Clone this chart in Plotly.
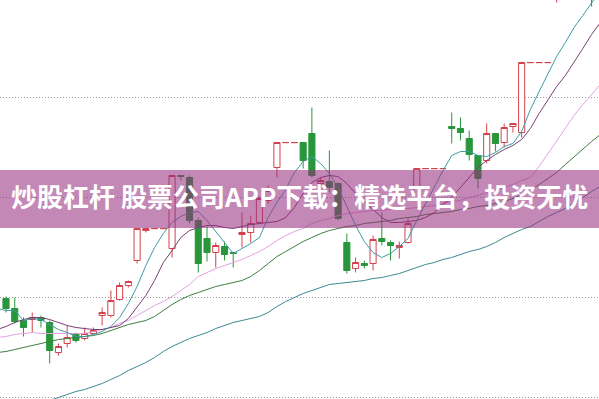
import plotly.graph_objects as go

# ---- daily candles (price, CNY) ----
days = list(range(0, 68))
opens = [10.99, 10.89, 10.77, 10.78, 10.80, 10.75, 10.45, 10.54, 10.64, 10.59,
         10.64, 10.82, 10.82, 10.98, 11.12, 11.37, 11.67, 11.688, 11.688, 11.49,
         12.22, 12.20, 11.77, 11.59, 11.45, 11.51, 11.45, 11.63, 11.65, 11.75,
         11.97, 12.30, 12.548, 12.548, 12.55, 12.64, 12.14, 12.16, 12.14, 11.55,
         11.29, 11.34, 11.34, 11.59, 11.55, 11.50, 11.55, 11.99, 12.288, 12.288,
         12.288, 12.71, 12.69, 12.59, 12.42, 12.37, 12.64, 12.55, 12.71, 12.65,
         13.348, 13.348, 13.348, 14.00, 14.20, 14.50, 14.80, 15.00]
highs = [11.01, 11.00, 10.80, 10.85, 10.82, 10.77, 10.54, 10.72, 10.65, 10.70,
         10.70, 10.90, 11.07, 11.15, 11.17, 11.69, 11.69, 11.69, 11.69, 12.22,
         12.22, 12.22, 11.80, 11.71, 11.55, 11.56, 11.46, 11.85, 11.82, 12.01,
         12.12, 12.55, 12.55, 12.55, 12.55, 12.90, 12.20, 12.47, 12.15, 11.64,
         11.40, 11.37, 11.62, 11.85, 11.57, 11.56, 11.79, 12.29, 12.29, 12.29,
         12.29, 12.85, 12.80, 12.67, 12.42, 12.74, 12.64, 12.74, 12.74, 13.35,
         13.35, 13.35, 13.35, 14.30, 14.60, 14.90, 15.20, 15.20]
lows = [10.85, 10.74, 10.61, 10.65, 10.70, 10.34, 10.42, 10.50, 10.55, 10.57,
        10.63, 10.72, 10.80, 10.97, 11.10, 11.34, 11.65, 11.688, 11.688, 11.40,
        12.17, 11.74, 11.25, 11.36, 11.30, 11.37, 11.30, 11.50, 11.55, 11.74,
        11.94, 12.20, 12.548, 12.548, 12.29, 12.20, 12.12, 12.05, 11.77, 11.24,
        11.25, 11.29, 11.27, 11.52, 11.37, 11.39, 11.54, 11.97, 12.288, 12.288,
        12.288, 12.54, 12.57, 12.37, 12.09, 12.34, 12.46, 12.50, 12.65, 12.60,
        13.348, 13.348, 13.348, 13.95, 14.15, 14.45, 14.75, 13.91]
closes = [10.89, 10.76, 10.70, 10.80, 10.77, 10.47, 10.51, 10.60, 10.57, 10.64,
          10.67, 10.85, 10.97, 11.12, 11.16, 11.69, 11.69, 11.69, 11.69, 12.22,
          12.21, 11.77, 11.34, 11.45, 11.52, 11.43, 11.44, 11.65, 11.74, 11.99,
          12.07, 12.55, 12.55, 12.55, 12.37, 12.22, 12.17, 12.10, 11.79, 11.27,
          11.35, 11.32, 11.58, 11.56, 11.52, 11.52, 11.74, 12.29, 12.29, 12.29,
          12.29, 12.69, 12.65, 12.43, 12.19, 12.64, 12.54, 12.70, 12.74, 13.35,
          13.35, 13.35, 13.35, 14.20, 14.50, 14.80, 15.10, 14.30]

# ---- moving averages ----
ma_days = list(range(-1, 69))
ma5 = [10.89, 10.87, 10.87, 10.77, 10.79, 10.78, 10.73, 10.68, 10.65, 10.61, 10.61,
       10.63, 10.66, 10.71, 10.80, 10.94, 11.11, 11.32, 11.50, 11.64, 11.75,
       11.81, 11.85, 11.86, 11.77, 11.66, 11.55, 11.44, 11.49, 11.54, 11.60,
       11.80, 11.95, 12.08, 12.25, 12.36, 12.41, 12.34, 12.24, 12.10, 11.91,
       11.72, 11.56, 11.45, 11.40, 11.44, 11.51, 11.59, 11.77, 11.94, 12.11,
       12.27, 12.42, 12.46, 12.46, 12.42, 12.41, 12.45, 12.51, 12.54, 12.66,
       12.88, 13.06, 13.23, 13.41, 13.55, 13.70, 13.82, 13.95, 14.07]
ma10 = [10.68, 10.71, 10.75, 10.78, 10.80, 10.80, 10.78, 10.75, 10.72, 10.70, 10.69,
        10.68, 10.68, 10.70, 10.72, 10.79, 10.91, 11.02, 11.17, 11.35, 11.47,
        11.60, 11.67, 11.70, 11.72, 11.72, 11.70, 11.69, 11.71, 11.73, 11.74,
        11.75, 11.76, 11.80, 11.90, 12.04, 12.15, 12.20, 12.22, 12.21, 12.14,
        12.04, 11.96, 11.87, 11.80, 11.75, 11.75, 11.76, 11.77, 11.80, 11.85,
        11.93, 12.00, 12.10, 12.20, 12.30, 12.37, 12.43, 12.48, 12.52, 12.58,
        12.69, 12.84, 12.97, 13.11, 13.22, 13.35, 13.49, 13.63, 13.75]
ma20 = [10.60, 10.61, 10.63, 10.64, 10.65, 10.64, 10.64, 10.64, 10.64, 10.64, 10.64,
        10.66, 10.68, 10.70, 10.74, 10.77, 10.82, 10.87, 10.92, 10.96, 11.01,
        11.07, 11.13, 11.21, 11.25, 11.29, 11.32, 11.35, 11.38, 11.42, 11.46,
        11.51, 11.57, 11.62, 11.66, 11.69, 11.74, 11.77, 11.79, 11.82, 11.84,
        11.85, 11.86, 11.87, 11.87, 11.88, 11.89, 11.89, 11.90, 11.91, 11.92,
        11.94, 11.96, 11.97, 12.00, 12.02, 12.05, 12.07, 12.10, 12.13, 12.17,
        12.20, 12.31, 12.44, 12.56, 12.69, 12.82, 12.93, 13.03, 13.13]
ma30 = [10.45, 10.46, 10.48, 10.50, 10.52, 10.54, 10.56, 10.58, 10.59, 10.60, 10.61,
        10.62, 10.64, 10.67, 10.70, 10.73, 10.75, 10.77, 10.81, 10.87, 10.93,
        10.98, 11.02, 11.05, 11.08, 11.11, 11.13, 11.15, 11.17, 11.21, 11.27,
        11.34, 11.41, 11.46, 11.51, 11.56, 11.60, 11.64, 11.67, 11.69, 11.71,
        11.72, 11.74, 11.75, 11.76, 11.77, 11.79, 11.80, 11.81, 11.83, 11.84,
        11.85, 11.86, 11.88, 11.89, 11.91, 11.92, 11.94, 11.96, 11.99, 12.03,
        12.07, 12.13, 12.19, 12.25, 12.33, 12.41, 12.49, 12.56, 12.63]
ma60 = [9.78, 9.81, 9.84, 9.87, 9.90, 9.94, 9.97, 10.00, 10.03, 10.06, 10.08,
        10.11, 10.14, 10.18, 10.22, 10.27, 10.31, 10.35, 10.40, 10.46, 10.51,
        10.55, 10.59, 10.62, 10.65, 10.69, 10.72, 10.75, 10.77, 10.79, 10.81,
        10.85, 10.91, 10.96, 11.00, 11.04, 11.07, 11.10, 11.13, 11.14, 11.15,
        11.16, 11.17, 11.19, 11.20, 11.22, 11.24, 11.27, 11.30, 11.33, 11.35,
        11.38, 11.40, 11.43, 11.46, 11.48, 11.51, 11.55, 11.60, 11.64, 11.68,
        11.71, 11.76, 11.81, 11.85, 11.89, 11.94, 12.00, 12.06, 12.11]

RED = "#d4424d"
GREEN = "#28963a"

fig = go.Figure()

fig.add_trace(go.Candlestick(
    x=days, open=opens, high=highs, low=lows, close=closes,
    increasing=dict(line=dict(color=RED, width=1), fillcolor="#ffffff"),
    decreasing=dict(line=dict(color=GREEN, width=1), fillcolor=GREEN),
    whiskerwidth=0, showlegend=False, hoverinfo="skip",
))

ma_styles = [
    (ma60, "#3a8a92"),
    (ma30, "#3f7d3f"),
    (ma20, "#e4a2e0"),
    (ma10, "#7b3f73"),
    (ma5, "#3d9ca6"),
]
for values, color in ma_styles:
    fig.add_trace(go.Scatter(
        x=ma_days, y=values, mode="lines",
        line=dict(color=color, width=1), showlegend=False, hoverinfo="skip",
    ))

# translucent title band across the chart
fig.add_shape(type="rect", xref="paper", yref="paper",
              x0=0, x1=1, y0=0.4286, y1=0.5739,
              fillcolor="rgba(150,45,125,0.57)", line=dict(width=0),
              layer="above")
fig.add_annotation(
    text="<b>炒股杠杆 股票公司APP下载：精选平台，投资无忧</b>",
    xref="paper", yref="paper", x=0.5, y=0.5088,
    xanchor="center", yanchor="middle", showarrow=False,
    font=dict(family="Noto Sans CJK SC", size=26, color="#ffffff"),
)

fig.update_layout(
    width=599, height=399,
    margin=dict(l=0, r=0, t=0, b=0),
    paper_bgcolor="#ffffff", plot_bgcolor="#ffffff",
    boxgap=0.3, boxgroupgap=0,
    hovermode=False,
    xaxis=dict(range=[-0.686, 67.85], showgrid=False, zeroline=False,
               showticklabels=False, ticks="", rangeslider=dict(visible=False),
               fixedrange=True),
    yaxis=dict(range=[9.985, 13.975], tick0=10, dtick=1, showgrid=True,
               gridcolor="#9a9a9a", gridwidth=1, griddash="1px,2px",
               zeroline=False, showticklabels=False, ticks="", fixedrange=True),
)

fig.write_html("out.html")
